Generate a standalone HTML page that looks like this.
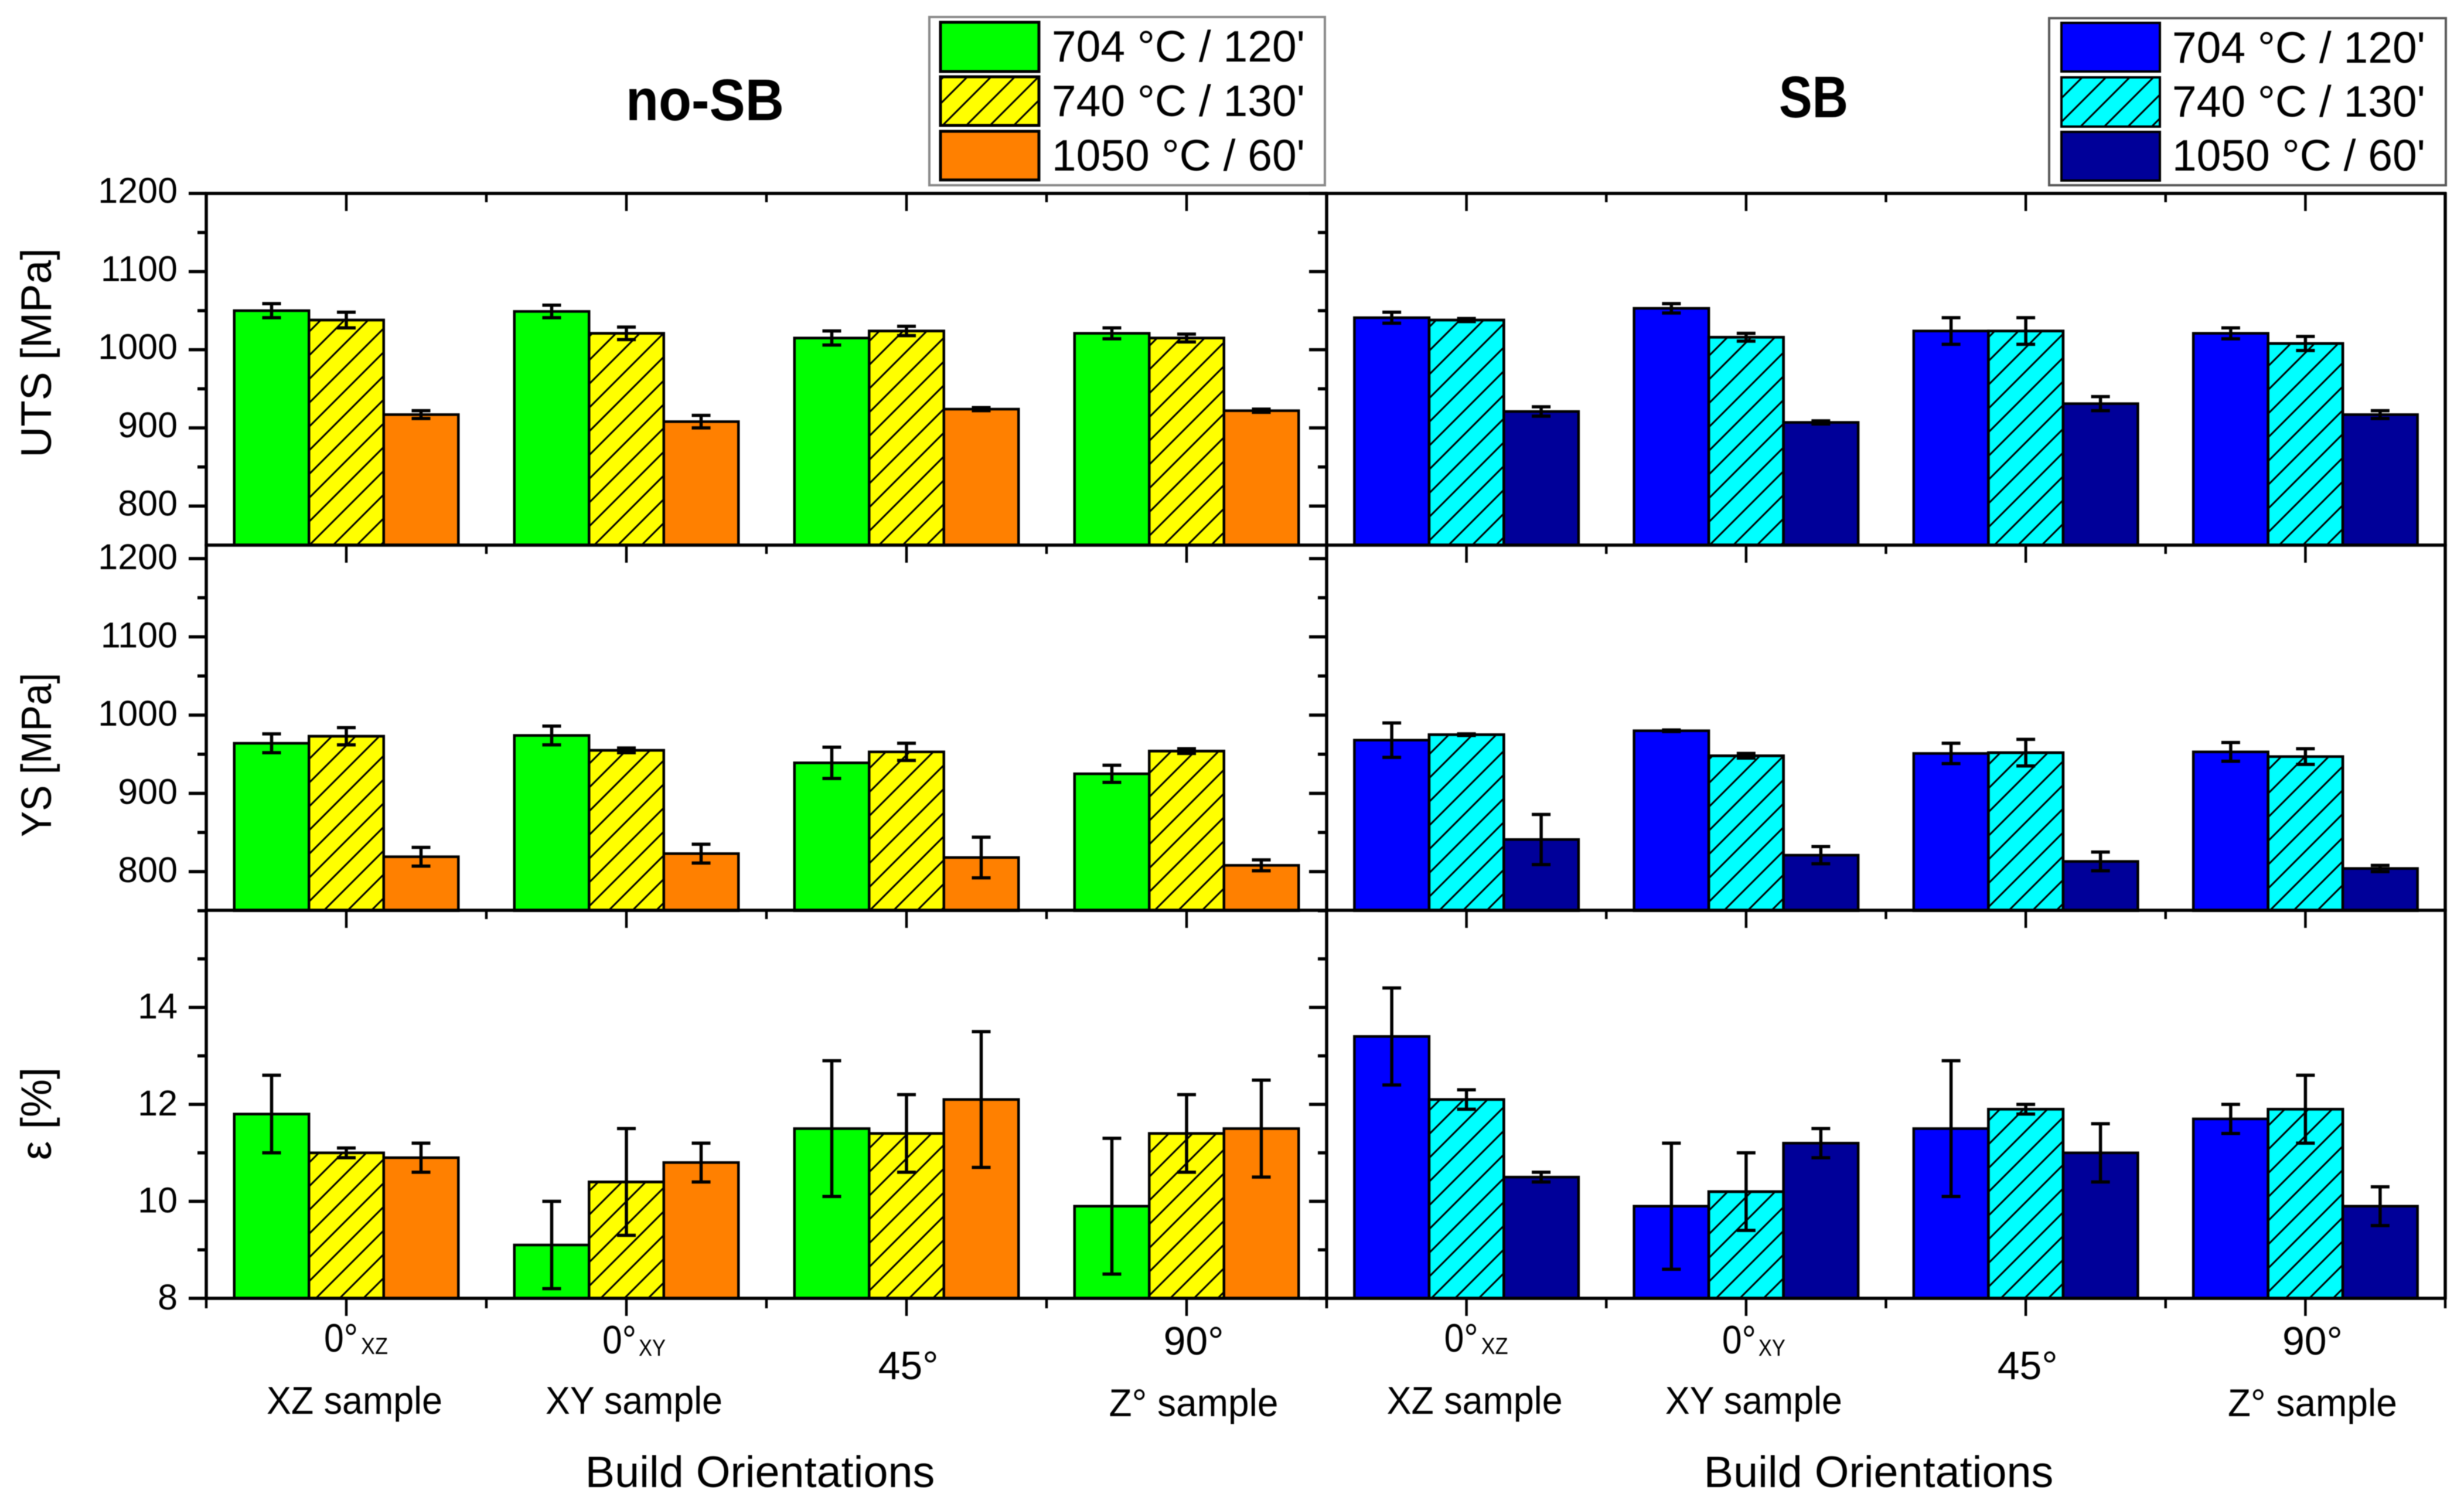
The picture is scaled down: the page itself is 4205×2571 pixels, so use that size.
<!DOCTYPE html>
<html lang="en">
<head>
<meta charset="utf-8">
<title>Mechanical properties by build orientation: no-SB vs SB</title>
<style>
  html, body { margin: 0; padding: 0; background: #fff; }
  svg { display: block; font-family: "Liberation Sans", Arial, sans-serif; fill: #000; filter: blur(0.7px); }
</style>
</head>
<body>
<svg id="chart" xmlns="http://www.w3.org/2000/svg" width="4205" height="2571" viewBox="0 0 4205 2571">
  <defs>
    <pattern id="hatch" patternUnits="userSpaceOnUse" width="40.5" height="40.5">
      <path d="M-6 6 L6 -6 M0 40.5 L40.5 0 M34.5 46.5 L46.5 34.5" stroke="#000" stroke-width="3" fill="none"/>
    </pattern>
  </defs>
  <rect width="4205" height="2571" fill="#fff"/>

  <text x="1068" y="205" font-size="100" font-weight="700" textLength="270" lengthAdjust="spacingAndGlyphs">no-SB</text>
  <text x="3036" y="200" font-size="100" font-weight="700" textLength="118" lengthAdjust="spacingAndGlyphs">SB</text>

  <g>
    <rect x="1586" y="29" width="675" height="287" fill="#fff" stroke="#8a8a8a" stroke-width="4"/>
    <rect x="1605" y="38" width="168" height="84" fill="#00ff00" stroke="#000" stroke-width="5"/>
    <rect x="1605" y="131" width="168" height="83" fill="#ffff00" stroke="#000" stroke-width="5"/>
    <rect x="1605" y="131" width="168" height="83" fill="url(#hatch)" stroke="#000" stroke-width="5"/>
    <rect x="1605" y="224" width="168" height="83" fill="#ff8000" stroke="#000" stroke-width="5"/>
    <text x="2227" y="105" font-size="75" text-anchor="end">704 °C / 120'</text>
    <text x="2227" y="198" font-size="75" text-anchor="end">740 °C / 130'</text>
    <text x="2227" y="291" font-size="75" text-anchor="end">1050 °C / 60'</text>
  </g>

  <g>
    <rect x="3497" y="31" width="677" height="285" fill="#fff" stroke="#5a5a5a" stroke-width="4"/>
    <rect x="3518" y="39" width="168" height="83" fill="#0000ff" stroke="#000" stroke-width="4"/>
    <rect x="3518" y="132" width="168" height="84" fill="#00ffff" stroke="#000" stroke-width="4"/>
    <rect x="3518" y="132" width="168" height="84" fill="url(#hatch)" stroke="#000" stroke-width="4"/>
    <rect x="3518" y="225" width="168" height="83" fill="#000099" stroke="#000" stroke-width="4"/>
    <text x="4139" y="107" font-size="75" text-anchor="end">704 °C / 120'</text>
    <text x="4139" y="199" font-size="75" text-anchor="end">740 °C / 130'</text>
    <text x="4139" y="291" font-size="75" text-anchor="end">1050 °C / 60'</text>
  </g>

  <text transform="translate(87 602) rotate(-90)" font-size="73" text-anchor="middle">UTS [MPa]</text>
  <text transform="translate(87 1288) rotate(-90)" font-size="72" text-anchor="middle" textLength="280" lengthAdjust="spacingAndGlyphs">YS [MPa]</text>
  <text transform="translate(87 1900) rotate(-90)" font-size="73" text-anchor="middle">ε [%]</text>

  <text x="1297" y="2537" font-size="75.6" text-anchor="middle">Build Orientations</text>
  <text x="3206" y="2537" font-size="75.6" text-anchor="middle">Build Orientations</text>

  <g id="plot"></g>
</svg>

<script>
// Categories and series
const orientations = ["0°", "0°", "45°", "90°"];
const orientationSubs = ["XZ", "XY", "", ""];
const sampleLabels = ["XZ sample", "XY sample", "", "Z° sample"];
const treatments = ["704C-120min", "740C-130min", "1050C-60min"];

// UTS [MPa]: one row per orientation, one column per treatment
const utsNoSb = [[1050, 1038, 917], [1049, 1021, 908], [1015, 1024, 924], [1021, 1015, 922]];
const utsNoSbErr = [[9, 10, 5], [8, 8, 8], [9, 6, 2], [7, 5, 2]];
const utsSb = [[1041, 1038, 921], [1053, 1016, 907], [1024, 1024, 931], [1021, 1008, 917]];
const utsSbErr = [[7, 2, 6], [6, 5, 2], [17, 17, 9], [7, 9, 5]];

// YS [MPa]
const ysNoSb = [[964, 973, 819], [974, 955, 823], [939, 953, 818], [925, 954, 808]];
const ysNoSbErr = [[12, 11, 12], [12, 3, 12], [20, 11, 26], [11, 3, 7]];
const ysSb = [[968, 975, 841], [980, 948, 821], [951, 952, 813], [953, 947, 804]];
const ysSbErr = [[22, 1, 32], [1, 3, 11], [13, 17, 12], [12, 10, 4]];

// Elongation [%]
const epsNoSb = [[11.8, 11.0, 10.9], [9.1, 10.4, 10.8], [11.5, 11.4, 12.1], [9.9, 11.4, 11.5]];
const epsNoSbErr = [[0.8, 0.1, 0.3], [0.9, 1.1, 0.4], [1.4, 0.8, 1.4], [1.4, 0.8, 1.0]];
const epsSb = [[13.4, 12.1, 10.5], [9.9, 10.2, 11.2], [11.5, 11.9, 11.0], [11.7, 11.9, 9.9]];
const epsSbErr = [[1.0, 0.2, 0.1], [1.3, 0.8, 0.3], [1.4, 0.1, 0.6], [0.3, 0.7, 0.4]];

// Tick labels
const stressMajorTicks = [800, 900, 1000, 1100, 1200];
const utsMinorTicks = [850, 950, 1050, 1150];
const ysMinorTicks = [750, 850, 950, 1050, 1150];
const epsMajorTicks = [8, 10, 12, 14];
const epsMinorTicks = [9, 11, 13, 15];

const SVG_NS = "http://www.w3.org/2000/svg";
const plot = document.getElementById("plot");

function linear(d0, d1, r0, r1) {
  return function (v) { return r0 + (v - d0) * (r1 - r0) / (d1 - d0); };
}
function mk(tag, attrs, parent) {
  const el = document.createElementNS(SVG_NS, tag);
  for (const k in attrs) el.setAttribute(k, attrs[k]);
  parent.appendChild(el);
  return el;
}

const columns = [
  { key: "no-sb", x0: 352, x1: 2264, fills: ["#00ff00", "#ffff00", "#ff8000"] },
  { key: "sb", x0: 2264, x1: 4173, fills: ["#0000ff", "#00ffff", "#000099"] }
];
const panels = [
  { key: "uts", top: 330, bottom: 930, labelDy: 16, y: linear(750, 1200, 930, 330), base: 750,
    major: stressMajorTicks, minor: utsMinorTicks, series: [utsNoSb, utsSb], errors: [utsNoSbErr, utsSbErr] },
  { key: "ys", top: 930, bottom: 1553, labelDy: 18, y: linear(800, 1200, 1487, 953), base: 750,
    major: stressMajorTicks, minor: ysMinorTicks, series: [ysNoSb, ysSb], errors: [ysNoSbErr, ysSbErr] },
  { key: "eps", top: 1553, bottom: 2215, labelDy: 19, y: linear(8, 14, 2215, 1718.6), base: 8,
    major: epsMajorTicks, minor: epsMinorTicks, series: [epsNoSb, epsSb], errors: [epsNoSbErr, epsSbErr] }
];

function groupX(col, g) {
  return linear(0, orientations.length, col.x0, col.x1)(g + 0.5);
}
function boundaryX(col, g) {
  return linear(0, orientations.length, col.x0, col.x1)(g);
}
const BAR_W = 127.5;

function drawBars(panel, col, c) {
  const values = panel.series[c];
  const errors = panel.errors[c];
  const baseY = panel.y(panel.base);
  values.forEach(function (row, g) {
    row.forEach(function (v, s) {
      const x = groupX(col, g) + (s - 1.5) * BAR_W;
      const y = panel.y(v);
      const bar = mk("rect", { x: x, y: y, width: BAR_W, height: baseY - y, fill: col.fills[s], stroke: "#000", "stroke-width": 4.5 }, plot);
      
      
      if (s === 1) {
        const hatch = mk("rect", { x: x, y: y, width: BAR_W, height: baseY - y, fill: "url(#hatch)", stroke: "#000", "stroke-width": 4.5 }, plot);
        
        
      }
    });
  });
  values.forEach(function (row, g) {
    row.forEach(function (v, s) {
      const cx = groupX(col, g) + (s - 1) * BAR_W;
      const hi = panel.y(v + errors[g][s]);
      const lo = panel.y(v - errors[g][s]);
      const d = "M" + cx + " " + hi + "V" + lo + "M" + (cx - 16) + " " + hi + "H" + (cx + 16) + "M" + (cx - 16) + " " + lo + "H" + (cx + 16);
      const err = mk("path", { d: d, fill: "none", stroke: "#000", "stroke-width": 5.5 }, plot);
      
      
    });
  });
}

function drawAxes(panel, col, c) {
  const line = function (x1, y1, x2, y2, w, name) {
    const el = mk("line", { x1: x1, y1: y1, x2: x2, y2: y2, stroke: "#000", "stroke-width": w }, plot);
    
    
    return el;
  };
  const id = panel.key + '-' + col.key;
  line(col.x0 - 2, panel.bottom, col.x1 + 2, panel.bottom, 5.5, 'baseline-' + id);
  line(col.x0, panel.top - 2, col.x0, panel.bottom + 2, 5.5, 'y-axis-' + id);
  if (panel.key === "uts") line(col.x0 - 2, panel.top, col.x1 + 2, panel.top, 5.5, 'top-axis-' + col.key);
  if (c === 1) line(col.x1, panel.top - 2, col.x1, panel.bottom + 2, 5.5, 'right-axis-' + panel.key);

  panel.major.forEach(function (v) {
    const y = panel.y(v);
    line(col.x0 - 30, y, col.x0, y, 5.5, 'y-major-tick-' + id + '-' + v);
    if (c === 0) {
      const t = mk("text", { x: 303, y: y + panel.labelDy, "font-size": 61, "text-anchor": "end" }, plot);
      
      
      t.textContent = String(v);
    }
  });
  panel.minor.forEach(function (v) {
    const y = panel.y(v);
    line(col.x0 - 15, y, col.x0, y, 5.5, 'y-minor-tick-' + id + '-' + v);
  });

  orientations.forEach(function (o, g) {
    const gx = groupX(col, g);
    line(gx, panel.top, gx, panel.top + 30, 4.5, 'x-major-tick-top-' + id + '-' + g);
    if (g > 0) {
      const bx = boundaryX(col, g);
      line(bx, panel.top, bx, panel.top + 15, 4.5, 'x-minor-tick-top-' + id + '-' + g);
    }
  });
}

function drawXLabels(col) {
  const labelNudge = [-38, -41, 3, 12];
  const subNudge = [25, 21, 0, 0];
  const labelBaseline = [2306, 2309, 2353, 2311];
  const sampleNudge = [14, 13, 0, 12];
  const sampleBaseline = [2412, 2412, 0, 2416];
  const sampleWidth = [300, 302, 0, 289];
  const bottom = panels[2].bottom;
  const tick = function (x, len, name) {
    const el = mk("line", { x1: x, y1: bottom, x2: x, y2: bottom + len, stroke: "#000", "stroke-width": 4.5 }, plot);
    
    
  };
  for (let g = 0; g <= orientations.length; g++) {
    tick(boundaryX(col, g), 17, 'x-minor-tick-bottom-' + col.key + '-' + g);
  }
  orientations.forEach(function (o, g) {
    const gx = groupX(col, g);
    tick(gx, 30, 'x-major-tick-bottom-' + col.key + '-' + g);

    const hasSub = !!orientationSubs[g];
    const t = mk("text", { x: gx + labelNudge[g], y: labelBaseline[g], "font-size": 68, "text-anchor": hasSub ? "start" : "middle" }, plot);
    
    
    t.textContent = o;
    if (hasSub) {
      t.setAttribute("textLength", 58);
      t.setAttribute("lengthAdjust", "spacingAndGlyphs");
      const sub = mk("text", { x: gx + subNudge[g], y: labelBaseline[g] + 4, "font-size": 40, textLength: 46, lengthAdjust: "spacingAndGlyphs" }, plot);
      
      
      sub.textContent = orientationSubs[g];
    }
    if (sampleLabels[g]) {
      const s = mk("text", { x: gx + sampleNudge[g] - sampleWidth[g] / 2, y: sampleBaseline[g], "font-size": 66, textLength: sampleWidth[g], lengthAdjust: "spacingAndGlyphs" }, plot);
      
      
      s.textContent = sampleLabels[g];
    }
  });
}

panels.forEach(function (panel) {
  columns.forEach(function (col, c) { drawBars(panel, col, c); });
});
panels.forEach(function (panel) {
  columns.forEach(function (col, c) { drawAxes(panel, col, c); });
});
columns.forEach(drawXLabels);
</script>
</body>
</html>
